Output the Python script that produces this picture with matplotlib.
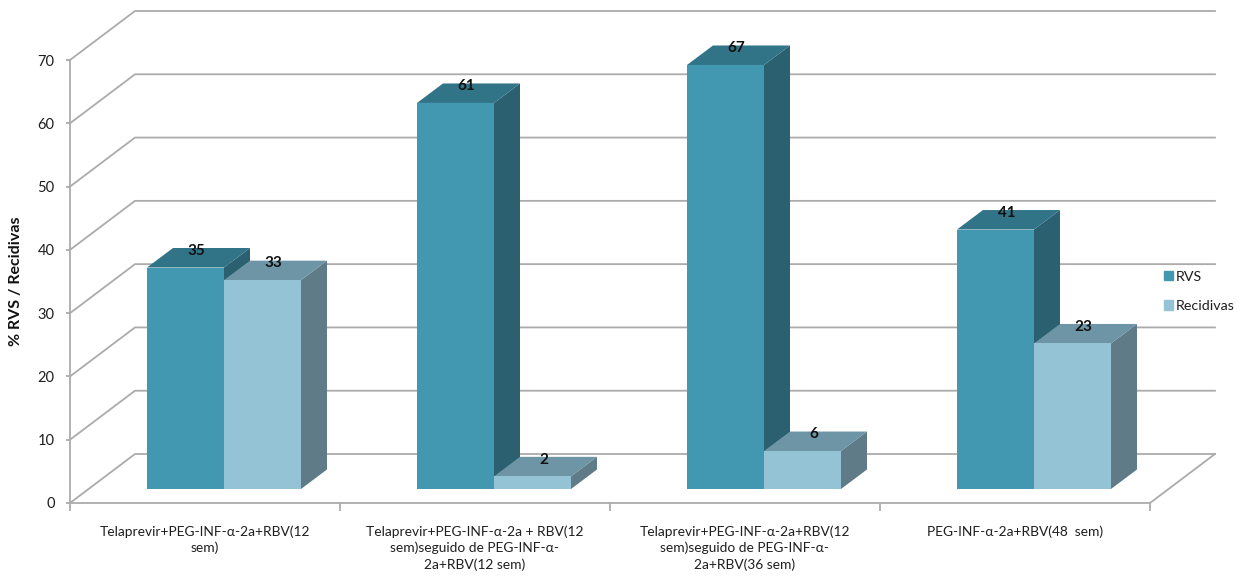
# %% 3d-look clustered columns, RVS and relapse rates per regimen
import matplotlib
matplotlib.use('Agg')
import matplotlib.pyplot as plt
import numpy as np
from matplotlib.patches import Patch, Polygon

categories = ['Telaprevir+PEG-INF-α-2a+RBV(12\nsem)',
              'Telaprevir+PEG-INF-α-2a + RBV(12\nsem)seguido de PEG-INF-α-\n2a+RBV(12 sem)',
              'Telaprevir+PEG-INF-α-2a+RBV(12\nsem)seguido de PEG-INF-α-\n2a+RBV(36 sem)',
              'PEG-INF-α-2a+RBV(48  sem)']
rvs = [35, 61, 67, 41]
recidivas = [33, 2, 6, 23]
yticks = [0, 10, 20, 30, 40, 50, 60, 70]

W, H = 1242, 579
plt.rcParams['font.family'] = ['Lato', 'DejaVu Sans']

# pixel frame of the front plane
left, right, bottom, top = 70, 1150, 503, 60
x_px = (right - left) / 4
y_px = (bottom - top) / 70

# depth of the box and of the columns, in data units
wall_dx, wall_dy = 65 / x_px, 49 / y_px
col_dx, col_dy = 26 / x_px, 19.5 / y_px
base_dy = 14 / y_px
bar_w = 77 / x_px
bar_start = 77 / x_px

grid_col = '#ABABAB'
text_col = '#1F1F1F'
colors_rvs = {'front': '#4198B0', 'side': '#2A6070', 'top': '#317488'}
colors_rec = {'front': '#93C3D5', 'side': '#5E7B87', 'top': '#6E95A5'}

fig = plt.figure(figsize=(W / 100, H / 100), dpi=100)
ax = fig.add_axes([left / W, 1 - bottom / H, (right - left) / W, (bottom - top) / H])
ax.set_xlim(0, 4)
ax.set_ylim(0, 70)

for name, spine in ax.spines.items():
    spine.set_visible(name in ('left', 'bottom'))
    spine.set_color(grid_col)
    spine.set_linewidth(1.3)

# %% walls
for val in yticks:
    ax.plot([0, wall_dx, 4 + wall_dx], [val, val + wall_dy, val + wall_dy],
            color=grid_col, lw=1.3, clip_on=False, zorder=1)
ax.plot([4, 4 + wall_dx], [0, wall_dy], color=grid_col, lw=1.3, clip_on=False, zorder=1)


# %% one column: side, top, then front face
def column(x0, val, colors, z):
    x1 = x0 + bar_w
    y0 = base_dy
    y1 = base_dy + val
    side = [(x1, y0), (x1 + col_dx, y0 + col_dy), (x1 + col_dx, y1 + col_dy), (x1, y1)]
    roof = [(x0, y1), (x0 + col_dx, y1 + col_dy), (x1 + col_dx, y1 + col_dy), (x1, y1)]
    ax.add_patch(Polygon(side, closed=True, fc=colors['side'], ec='none', clip_on=False, zorder=z))
    ax.add_patch(Polygon(roof, closed=True, fc=colors['top'], ec='none', clip_on=False, zorder=z))
    ax.bar(x0, val, width=bar_w, bottom=y0, align='edge', color=colors['front'],
           clip_on=False, zorder=z + 0.5)
    ax.annotate(str(val), (x0 + bar_w / 2, y1), xytext=(8, 12), textcoords='offset points',
                ha='center', va='center', fontsize=11, fontweight='bold', color='#111111',
                zorder=10, annotation_clip=False)


for i in range(len(categories)):
    x0 = i + bar_start
    column(x0, rvs[i], colors_rvs, 3 + i)
    column(x0 + bar_w, recidivas[i], colors_rec, 3.7 + i)

# %% axes text
ax.set_yticks(yticks)
ax.set_xticks(range(5))
ax.set_xticklabels([])
ax.set_xticks(np.arange(4) + 0.5, labels=categories, minor=True)
ax.tick_params(axis='y', length=3, width=1.3, color=grid_col, labelcolor=text_col,
               labelsize=10.5, pad=8)
ax.tick_params(axis='x', which='major', length=6, width=1.3, color=grid_col)
ax.tick_params(axis='x', which='minor', length=0, labelcolor=text_col, labelsize=9.9, pad=16)
for lab in ax.get_xticklabels(minor=True):
    lab.set_linespacing(1.38)

fig.text(16 / W, 1 - 281 / H, '% RVS / Recidivas', rotation=90, ha='center', va='center',
         fontsize=11.5, fontweight='bold', color='#111111')

handles = [Patch(color=colors_rvs['front'], label='RVS'),
           Patch(color=colors_rec['front'], label='Recidivas')]
fig.legend(handles=handles, loc='center left', bbox_to_anchor=(1164 / W, 1 - 291.5 / H),
           frameon=False, fontsize=10.3, labelcolor=text_col, handlelength=0.6, handleheight=0.6,
           handletextpad=0.2, labelspacing=1.2, borderpad=0, borderaxespad=0)

fig.savefig('out.png', dpi=100)
